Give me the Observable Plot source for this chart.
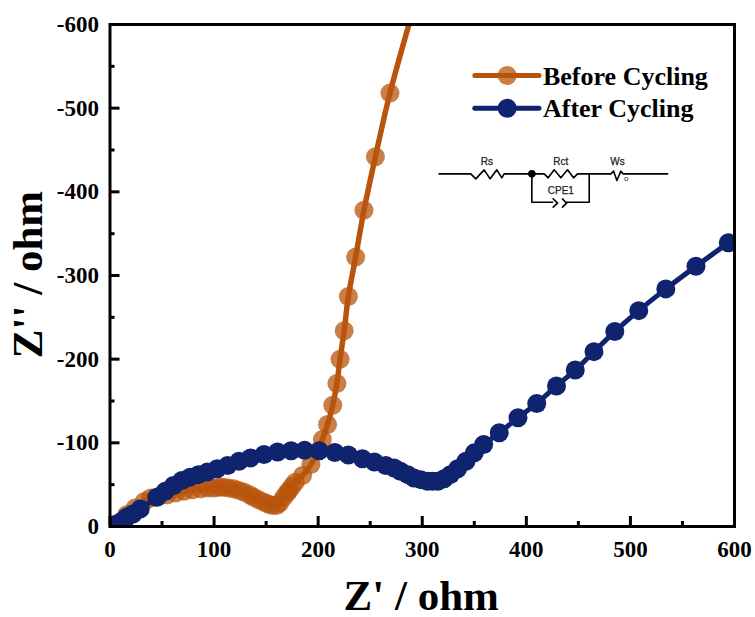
<!DOCTYPE html>
<html>
<head>
<meta charset="utf-8">
<script src="https://cdn.jsdelivr.net/npm/d3@7"></script>
<script src="https://cdn.jsdelivr.net/npm/@observablehq/plot@0.6"></script>
<style>html,body{margin:0;padding:0;background:#fff}svg{display:block}</style>
</head>
<body>
<div id="chart"></div>
<script>
const beforeX = [5,8,16,24,33,39,47,55,63,71,79,87,94,100,105,109,114,119,124,129,134,138,143,148,152,156,160,163,167,170,172,175,178,185,193,204,209,214,218,221,225,229,236,244,255,269,293];
const beforeY = [2,4,14,22,30,34,36,38,40,42,44,45,46,46,47,47,46,45,43,41,38,35,32,29,27,25,25,28,35,40,43,48,53,61,74,104,122,145,171,200,234,275,322,378,442,518,625];
const afterX = [5,8,12,16,22,29,45,53,61,69,77,85,93.5,103,113,124,135,148,161,174,187,201,216,229,242.5,254,265,273,279,286,292,298.5,305,310,315,321,327,334,342,350,359,374,392,410,429,447,465,485,508,534,563,594];
const afterY = [2,3,7,11,15,21,35,42,49,55,59,62,65,69,73,78,82,86,89,90.5,91,90.5,88.5,85.5,81,77,73,70,66,62,58,56,54,54,54,57,62,69,78,88,98,112,130,147,168,187,209,233,258,284,311,339];
const legendNames = ["Before Cycling","After Cycling"];
const legendY = [539,500];
const orange = "#b8540b", navy = "#10236f";

const before = beforeX.map((x,i)=>({x,y:beforeY[i]}));
const after = afterX.map((x,i)=>({x,y:afterY[i]}));

// circuit sketch, in drawing units, placed through the chart's scales
const cx = u => (420 + u/3 - 109.5) / 1.04;
const cy = v => (526 - 50 - v/3) / 0.8367;
const wires = [
  [[55,370],[150,370],[165,385],[190,358],[208,385],[228,358],[243,382],[250,370],[370,370],[382,382],[400,358],[420,382],[440,358],[458,382],[470,370],[570,370],[578,362],[588,390],[600,362],[606,370],[740,370]],
  [[333,370],[333,455],[395,455]],
  [[397,445],[410,458],[397,470]],
  [[425,445],[437,458],[425,470]],
  [[437,455],[505,455],[505,370]]
];
const wireRows = wires.flatMap((w,k)=>w.map(([u,v])=>({k,x:cx(u),y:cy(v)})));
const circuitLabels = [["Rs",198,335],["Rct",420,335],["Ws",590,335],["CPE1",420,422]].map(([t,u,v])=>({t,x:cx(u),y:cy(v)}));

const serif = "'Liberation Serif','Times New Roman',serif";
const sans = "'Liberation Sans',Arial,sans-serif";
const tf = d => d === 0 ? "0" : "-" + d;

const chart = Plot.plot({
  width:755, height:617,
  marginLeft:109.5, marginRight:21, marginTop:24, marginBottom:91,
  style:{background:"#fff", fontFamily:serif, color:"#000", overflow:"visible"},
  x:{domain:[0,600]}, y:{domain:[0,600]},
  marks:[
    Plot.dot(before,{x:"x",y:"y",r:9.5,fill:orange,fillOpacity:0.75,clip:"frame"}),
    Plot.line(before,{x:"x",y:"y",stroke:orange,strokeWidth:5.5,curve:"catmull-rom",clip:"frame"}),
    Plot.line(after,{x:"x",y:"y",stroke:navy,strokeWidth:5,curve:"catmull-rom",clip:"frame"}),
    Plot.dot(after,{x:"x",y:"y",r:9.5,fill:navy,clip:"frame"}),

    Plot.frame({stroke:"#000",strokeWidth:3}),
    Plot.axisX({ticks:d3.range(0,601,100),tickSize:-10,tickPadding:0,strokeWidth:3,label:null,text:null}),
    Plot.axisX({ticks:d3.range(50,600,100),tickSize:-5,tickPadding:0,strokeWidth:3,label:null,text:null}),
    Plot.axisY({ticks:d3.range(0,601,100),tickSize:-10,tickPadding:0,strokeWidth:3,label:null,text:null}),
    Plot.axisY({ticks:d3.range(50,600,100),tickSize:-5,tickPadding:0,strokeWidth:3,label:null,text:null}),
    Plot.text(d3.range(0,601,100),{x:d=>d,frameAnchor:"bottom",dy:30,text:d=>String(d),fontSize:23,fontWeight:"bold",lineAnchor:"bottom"}),
    Plot.text(d3.range(0,601,100),{y:d=>d,frameAnchor:"left",dx:-11,text:tf,fontSize:23,fontWeight:"bold",textAnchor:"end"}),
    Plot.text(["Z' / ohm"],{frameAnchor:"bottom",dx:-1,dy:83,text:d=>d,fontSize:43,fontWeight:"bold",lineAnchor:"bottom"}),
    Plot.text(["Z'' / ohm"],{frameAnchor:"left",dx:-82,dy:-1,text:d=>d,fontSize:43,fontWeight:"bold",rotate:-90,textAnchor:"middle"}),

    Plot.ruleY(legendY,{x1:351,x2:412.6,y:d=>d,stroke:(d,i)=>i?navy:orange,strokeWidth:5,strokeLinecap:"round"}),
    Plot.dot([legendY[0]],{x:()=>381.6,y:d=>d,r:9.5,fill:orange,fillOpacity:0.75}),
    Plot.dot([legendY[1]],{x:()=>381.6,y:d=>d,r:9.5,fill:navy}),
    Plot.text(legendNames,{x:()=>416,y:(d,i)=>legendY[i],dy:1,text:d=>d,fontSize:26,fontWeight:"bold",textAnchor:"start"}),

    Plot.line(wireRows,{x:"x",y:"y",z:"k",stroke:"#000",strokeWidth:1.6,curve:"linear"}),
    Plot.dot([0],{x:()=>cx(333),y:()=>cy(370),r:3.8,fill:"#000"}),
    Plot.text(circuitLabels,{x:"x",y:"y",text:"t",fontSize:10,fontFamily:sans,fill:"#222",stroke:"#222",strokeWidth:0.25}),
    Plot.text(["0"],{x:()=>cx(616),y:()=>cy(385),text:d=>"o",fontSize:8,fontFamily:sans,fill:"#222"})
  ]
});
document.getElementById("chart").append(chart);
</script>
</body>
</html>
